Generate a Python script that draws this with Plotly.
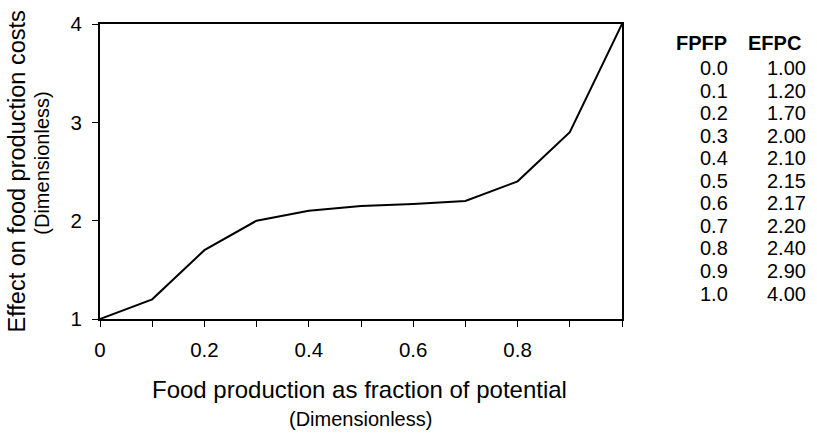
import plotly.graph_objects as go

fpfp = [0.0, 0.1, 0.2, 0.3, 0.4, 0.5, 0.6, 0.7, 0.8, 0.9, 1.0]
efpc = [1.00, 1.20, 1.70, 2.00, 2.10, 2.15, 2.17, 2.20, 2.40, 2.90, 4.00]
x_tickvals = [0.0, 0.1, 0.2, 0.3, 0.4, 0.5, 0.6, 0.7, 0.8, 0.9, 1.0]
x_ticktext = ["0", "", "0.2", "", "0.4", "", "0.6", "", "0.8", "", ""]
y_tickvals = [1, 2, 3, 4]
fpfp_labels = ["0.0", "0.1", "0.2", "0.3", "0.4", "0.5", "0.6", "0.7", "0.8", "0.9", "1.0"]
efpc_labels = ["1.00", "1.20", "1.70", "2.00", "2.10", "2.15", "2.17", "2.20", "2.40", "2.90", "4.00"]

FONT = "Liberation Sans, Arial, sans-serif"
W, H = 817, 437
L, R, T, B = 100, 195, 17, 118

fig = go.Figure()
fig.add_trace(go.Scatter(x=fpfp, y=efpc, mode="lines",
                         line=dict(color="black", width=2), cliponaxis=False,
                         showlegend=False, hoverinfo="skip"))

fig.update_layout(
    width=W, height=H,
    margin=dict(l=L, r=R, t=T, b=B),
    paper_bgcolor="white", plot_bgcolor="white",
    font=dict(family=FONT, color="black", size=20),
    xaxis=dict(range=[0, 1], tickvals=x_tickvals, ticktext=x_ticktext,
               ticks="outside", ticklen=6, tickwidth=1, tickcolor="black",
               ticklabelstandoff=5,
               showline=True, linecolor="black", linewidth=2, mirror=True,
               showgrid=False, zeroline=False, tickfont=dict(size=20.5)),
    yaxis=dict(range=[1, 4], tickvals=y_tickvals,
               ticks="outside", ticklen=6, tickwidth=1, tickcolor="black",
               ticklabelstandoff=6,
               showline=True, linecolor="black", linewidth=2, mirror=True,
               showgrid=False, zeroline=False, tickfont=dict(size=20.5)),
)

pw = W - L - R
ph = H - T - B

def px(xp):
    return (xp - L) / pw

def py(yp):
    return (H - B - yp) / ph

ann = []
ann.append(dict(text="Food production as fraction of potential", x=px(359), y=py(391),
                font=dict(size=24)))
ann.append(dict(text="(Dimensionless)", x=px(360), y=py(421), font=dict(size=20)))
ann.append(dict(text="Effect on food production costs", x=px(16), y=py(168),
                textangle=-90, font=dict(size=23.5)))
ann.append(dict(text="(Dimensionless)", x=px(42), y=py(160),
                textangle=-90, font=dict(size=20)))

ann.append(dict(text="<b>FPFP</b>", x=px(701.5), y=py(36), font=dict(size=20)))
ann.append(dict(text="<b>EFPC</b>", x=px(774.5), y=py(36), font=dict(size=20)))
for i, (a, b) in enumerate(zip(fpfp_labels, efpc_labels)):
    yy = 62 + i * 23.1
    ann.append(dict(text=a, x=px(730), y=py(yy), xanchor="right", font=dict(size=20)))
    ann.append(dict(text=b, x=px(808), y=py(yy), xanchor="right", font=dict(size=20)))

for a in ann:
    a.setdefault("xanchor", "center")
    a.update(xref="paper", yref="paper", yanchor="middle", showarrow=False)
fig.update_layout(annotations=ann)

fig.write_html("out.html", config={"displayModeBar": False},
               post_script="document.body.style.margin='0';")
